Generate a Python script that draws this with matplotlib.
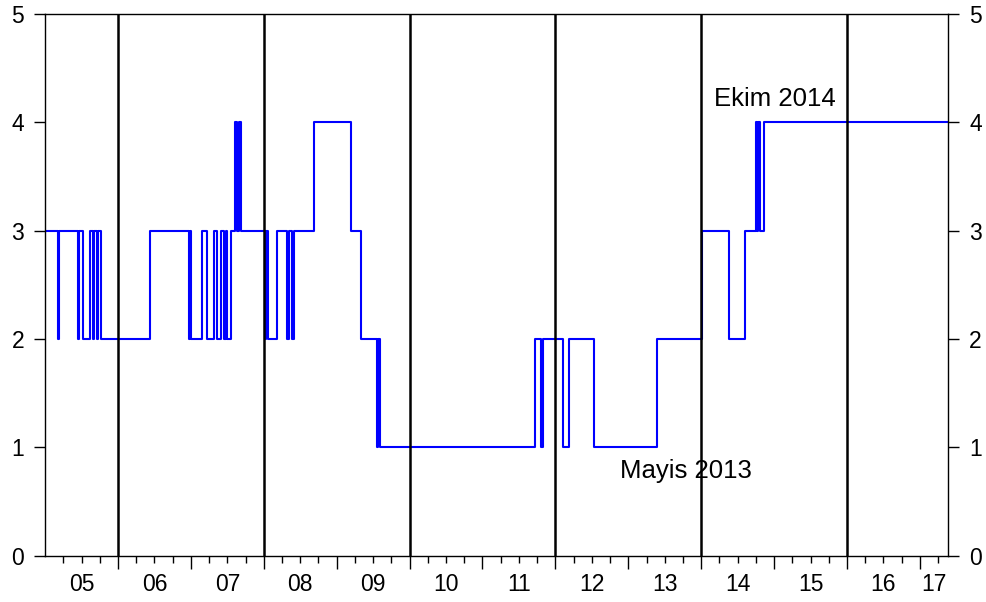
import matplotlib
matplotlib.use("Agg")
import matplotlib.pyplot as plt
import numpy as np

plt.rcParams['font.family'] = ['Liberation Sans', 'DejaVu Sans']

# Regime series: change dates (decimal years) and value from that date on
change_dates = [2005.000, 2005.181, 2005.198, 2005.447, 2005.469, 2005.524, 2005.616,
                2005.653, 2005.671, 2005.708, 2005.730, 2005.763, 2006.439,
                2006.978, 2006.992, 2007.005, 2007.156, 2007.228, 2007.321, 2007.365,
                2007.420, 2007.461, 2007.477, 2007.499, 2007.557, 2007.609, 2007.639,
                2007.664, 2007.694, 2008.023, 2008.037, 2008.053, 2008.185, 2008.322,
                2008.346, 2008.391, 2008.421, 2008.689, 2009.203, 2009.336, 2009.557,
                2009.573, 2009.590, 2011.717, 2011.802, 2011.827, 2012.101, 2012.180,
                2012.523, 2013.391, 2014.015, 2014.388, 2014.595, 2014.748, 2014.770,
                2014.786, 2014.811, 2014.866]
regime = [3, 2, 3, 2, 3, 2, 3,
          2, 3, 2, 3, 2, 3,
          2, 3, 2, 3, 2, 3, 2,
          3, 2, 3, 2, 3, 4, 3,
          4, 3, 2, 3, 2, 3, 2,
          3, 2, 3, 4, 3, 2, 1,
          2, 1, 2, 1, 2, 1, 2,
          1, 2, 3, 2, 3, 4, 3,
          4, 3, 4]
end_date = 2017.39

vline_years = [2006, 2008, 2010, 2012, 2014, 2016]
year_labels = ['05', '06', '07', '08', '09', '10', '11', '12', '13', '14', '15', '16', '17']
y_ticks = [0, 1, 2, 3, 4, 5]

annotations = [("Ekim 2014", 2014.17, 4.15), ("Mayis 2013", 2012.88, 0.72)]

fig = plt.figure(figsize=(9.86, 6.02), dpi=100)
ax = fig.add_axes([0.0457, 0.0771, 0.9161, 0.8996])

xs = list(change_dates) + [end_date]
ys = list(regime) + [regime[-1]]
ax.step(xs, ys, where='post', color='#0000FF', lw=1.5)

for v in vline_years:
    ax.axvline(v, color='black', lw=1.8)

ax.set_xlim(2005.0, end_date)
ax.set_ylim(0, 5)

# x ticks: major at year starts, minor at quarters
years = np.arange(2005, 2018)
ax.set_xticks(years[1:])
ax.set_xticklabels([])
ax.set_xticks([y + q for y in years for q in (0.25, 0.5, 0.75) if y + q < end_date], minor=True)
ax.tick_params(axis='x', which='major', length=9, width=1, direction='out')
ax.tick_params(axis='x', which='minor', length=5, width=1, direction='out')

for i, lab in enumerate(year_labels):
    y0 = 2005 + i
    xc = (y0 + min(y0 + 1, end_date)) / 2 if y0 + 1 > end_date else y0 + 0.5
    ax.text(xc, -0.033, lab, transform=ax.get_xaxis_transform(), ha='center', va='top',
            fontsize=16.5)

ax.set_yticks(y_ticks)
ax.tick_params(axis='y', which='both', length=8, width=1, direction='out',
               labelsize=16.5, left=True, right=True, labelleft=True, labelright=True, pad=7)

for sp in ax.spines.values():
    sp.set_linewidth(1.0)
    sp.set_color('black')

for txt, x, y in annotations:
    ax.text(x, y, txt, fontsize=18.5, ha='left', va='baseline')

fig.savefig('out.png', dpi=100)
